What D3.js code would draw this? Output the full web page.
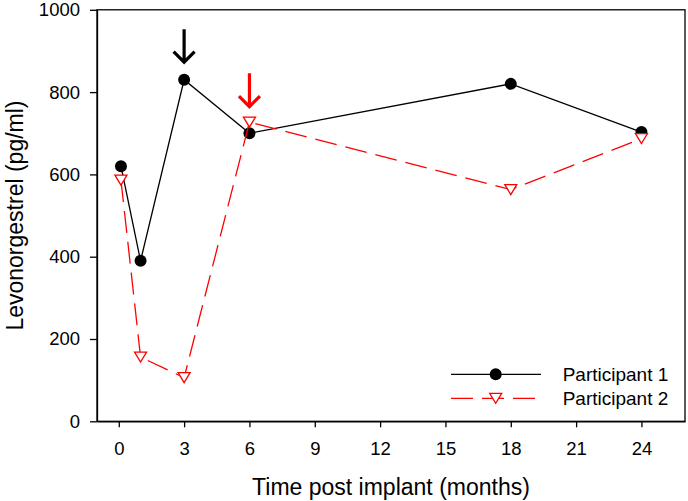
<!DOCTYPE html>
<html><head><meta charset="utf-8">
<script src="https://cdn.jsdelivr.net/npm/d3@7"></script>
<style>
body{margin:0;background:#fff;}
svg text{font-family:"Liberation Sans",Arial,sans-serif;fill:#000;}
</style></head>
<body><svg id="c" width="688" height="501"></svg>
<script>
const months = [0.1, 1, 3, 6, 18, 24];
const participant1 = [620, 390, 830, 700, 820, 703];
const participant2 = [586, 156, 106, 727, 563, 687];
const seriesNames = ["Participant 1", "Participant 2"];
const xTicks = [0, 3, 6, 9, 12, 15, 18, 21, 24];
const yTicks = [0, 200, 400, 600, 800, 1000];
const arrowMonths = [3, 6];
const arrowTop = [953, 846];
const arrowTip = [869, 761];
const arrowColors = ["#000", "#ff0000"];

const svg = d3.select("#c");
const L = 97, R = 685, T = 9.8, B = 421.3;
const x = d3.scaleLinear().domain([-1, 26]).range([L, R]);
const y = d3.scaleLinear().domain([0, 1000]).range([B, T]);

// frame
svg.append("rect").attr("x", L).attr("y", T).attr("width", R - L).attr("height", B - T)
  .attr("fill", "none").attr("stroke", "#000").attr("stroke-width", 1.3);

const xa = svg.append("g").attr("transform", `translate(0,${B})`)
  .call(d3.axisBottom(x).tickValues(xTicks).tickFormat(d3.format("d")).tickSize(6).tickSizeOuter(0).tickPadding(15));
const ya = svg.append("g").attr("transform", `translate(${L},0)`)
  .call(d3.axisLeft(y).tickValues(yTicks).tickFormat(d3.format("d")).tickSize(7).tickSizeOuter(0).tickPadding(10));
[xa, ya].forEach(g => {
  g.select(".domain").attr("stroke", "#000").attr("stroke-width", 1.3);
  g.selectAll(".tick line").attr("stroke", "#000").attr("stroke-width", 1.3);
  g.selectAll(".tick text").attr("font-size", 18.5).attr("font-family", '"Liberation Sans",Arial,sans-serif');
});

// axis titles
svg.append("text").attr("x", (L + R) / 2).attr("y", 495).attr("text-anchor", "middle")
  .attr("font-size", 23).text("Time post implant (months)");
svg.append("text").attr("transform", `translate(23,${(T + B) / 2}) rotate(-90)`)
  .attr("text-anchor", "middle").attr("font-size", 23).text("Levonorgestrel (pg/ml)");

const d1 = months.map((m, i) => [m, participant1[i]]);
const d2 = months.map((m, i) => [m, participant2[i]]);
const line = d3.line().x(d => x(d[0])).y(d => y(d[1]));

function tri(cx, cy) {
  return `M${cx - 6},${cy - 5}L${cx + 6},${cy - 5}L${cx},${cy + 5}Z`;
}

// series 1
svg.append("path").attr("d", line(d1)).attr("fill", "none").attr("stroke", "#000").attr("stroke-width", 1.3);
svg.selectAll(".p1").data(d1).join("circle").attr("cx", d => x(d[0])).attr("cy", d => y(d[1]))
  .attr("r", 6).attr("fill", "#000");
// series 2
svg.append("path").attr("d", line(d2)).attr("fill", "none").attr("stroke", "#ff0000")
  .attr("stroke-width", 1.3).attr("stroke-dasharray", "22,9");
svg.selectAll(".p2").data(d2).join("path").attr("d", d => tri(x(d[0]), y(d[1])))
  .attr("fill", "#fff").attr("stroke", "#ff0000").attr("stroke-width", 1.3);

// arrows
arrowMonths.forEach((m, i) => {
  const ax = x(m), t0 = y(arrowTop[i]), t1 = y(arrowTip[i]);
  svg.append("path").attr("d", `M${ax},${t0}L${ax},${t1 - 1}M${ax - 10.5},${t1 - 12}L${ax},${t1 - 1.5}L${ax + 10.5},${t1 - 12}`)
    .attr("fill", "none").attr("stroke", arrowColors[i]).attr("stroke-width", 3.2);
});

// legend
const lg = svg.append("g");
const ly = [374.3, 398.3];
lg.append("line").attr("x1", 451).attr("x2", 541).attr("y1", ly[0]).attr("y2", ly[0])
  .attr("stroke", "#000").attr("stroke-width", 1.3);
lg.append("circle").attr("cx", 495.7).attr("cy", ly[0]).attr("r", 6).attr("fill", "#000");
lg.append("line").attr("x1", 451).attr("x2", 535).attr("y1", ly[1]).attr("y2", ly[1])
  .attr("stroke", "#ff0000").attr("stroke-width", 1.3).attr("stroke-dasharray", "22,9");
lg.append("path").attr("d", tri(495.7, ly[1])).attr("fill", "#fff").attr("stroke", "#ff0000").attr("stroke-width", 1.3);
seriesNames.forEach((n, i) => {
  lg.append("text").attr("x", 562.7).attr("y", ly[i]).attr("dy", "0.35em").attr("font-size", 19).text(n);
});
</script></body></html>
